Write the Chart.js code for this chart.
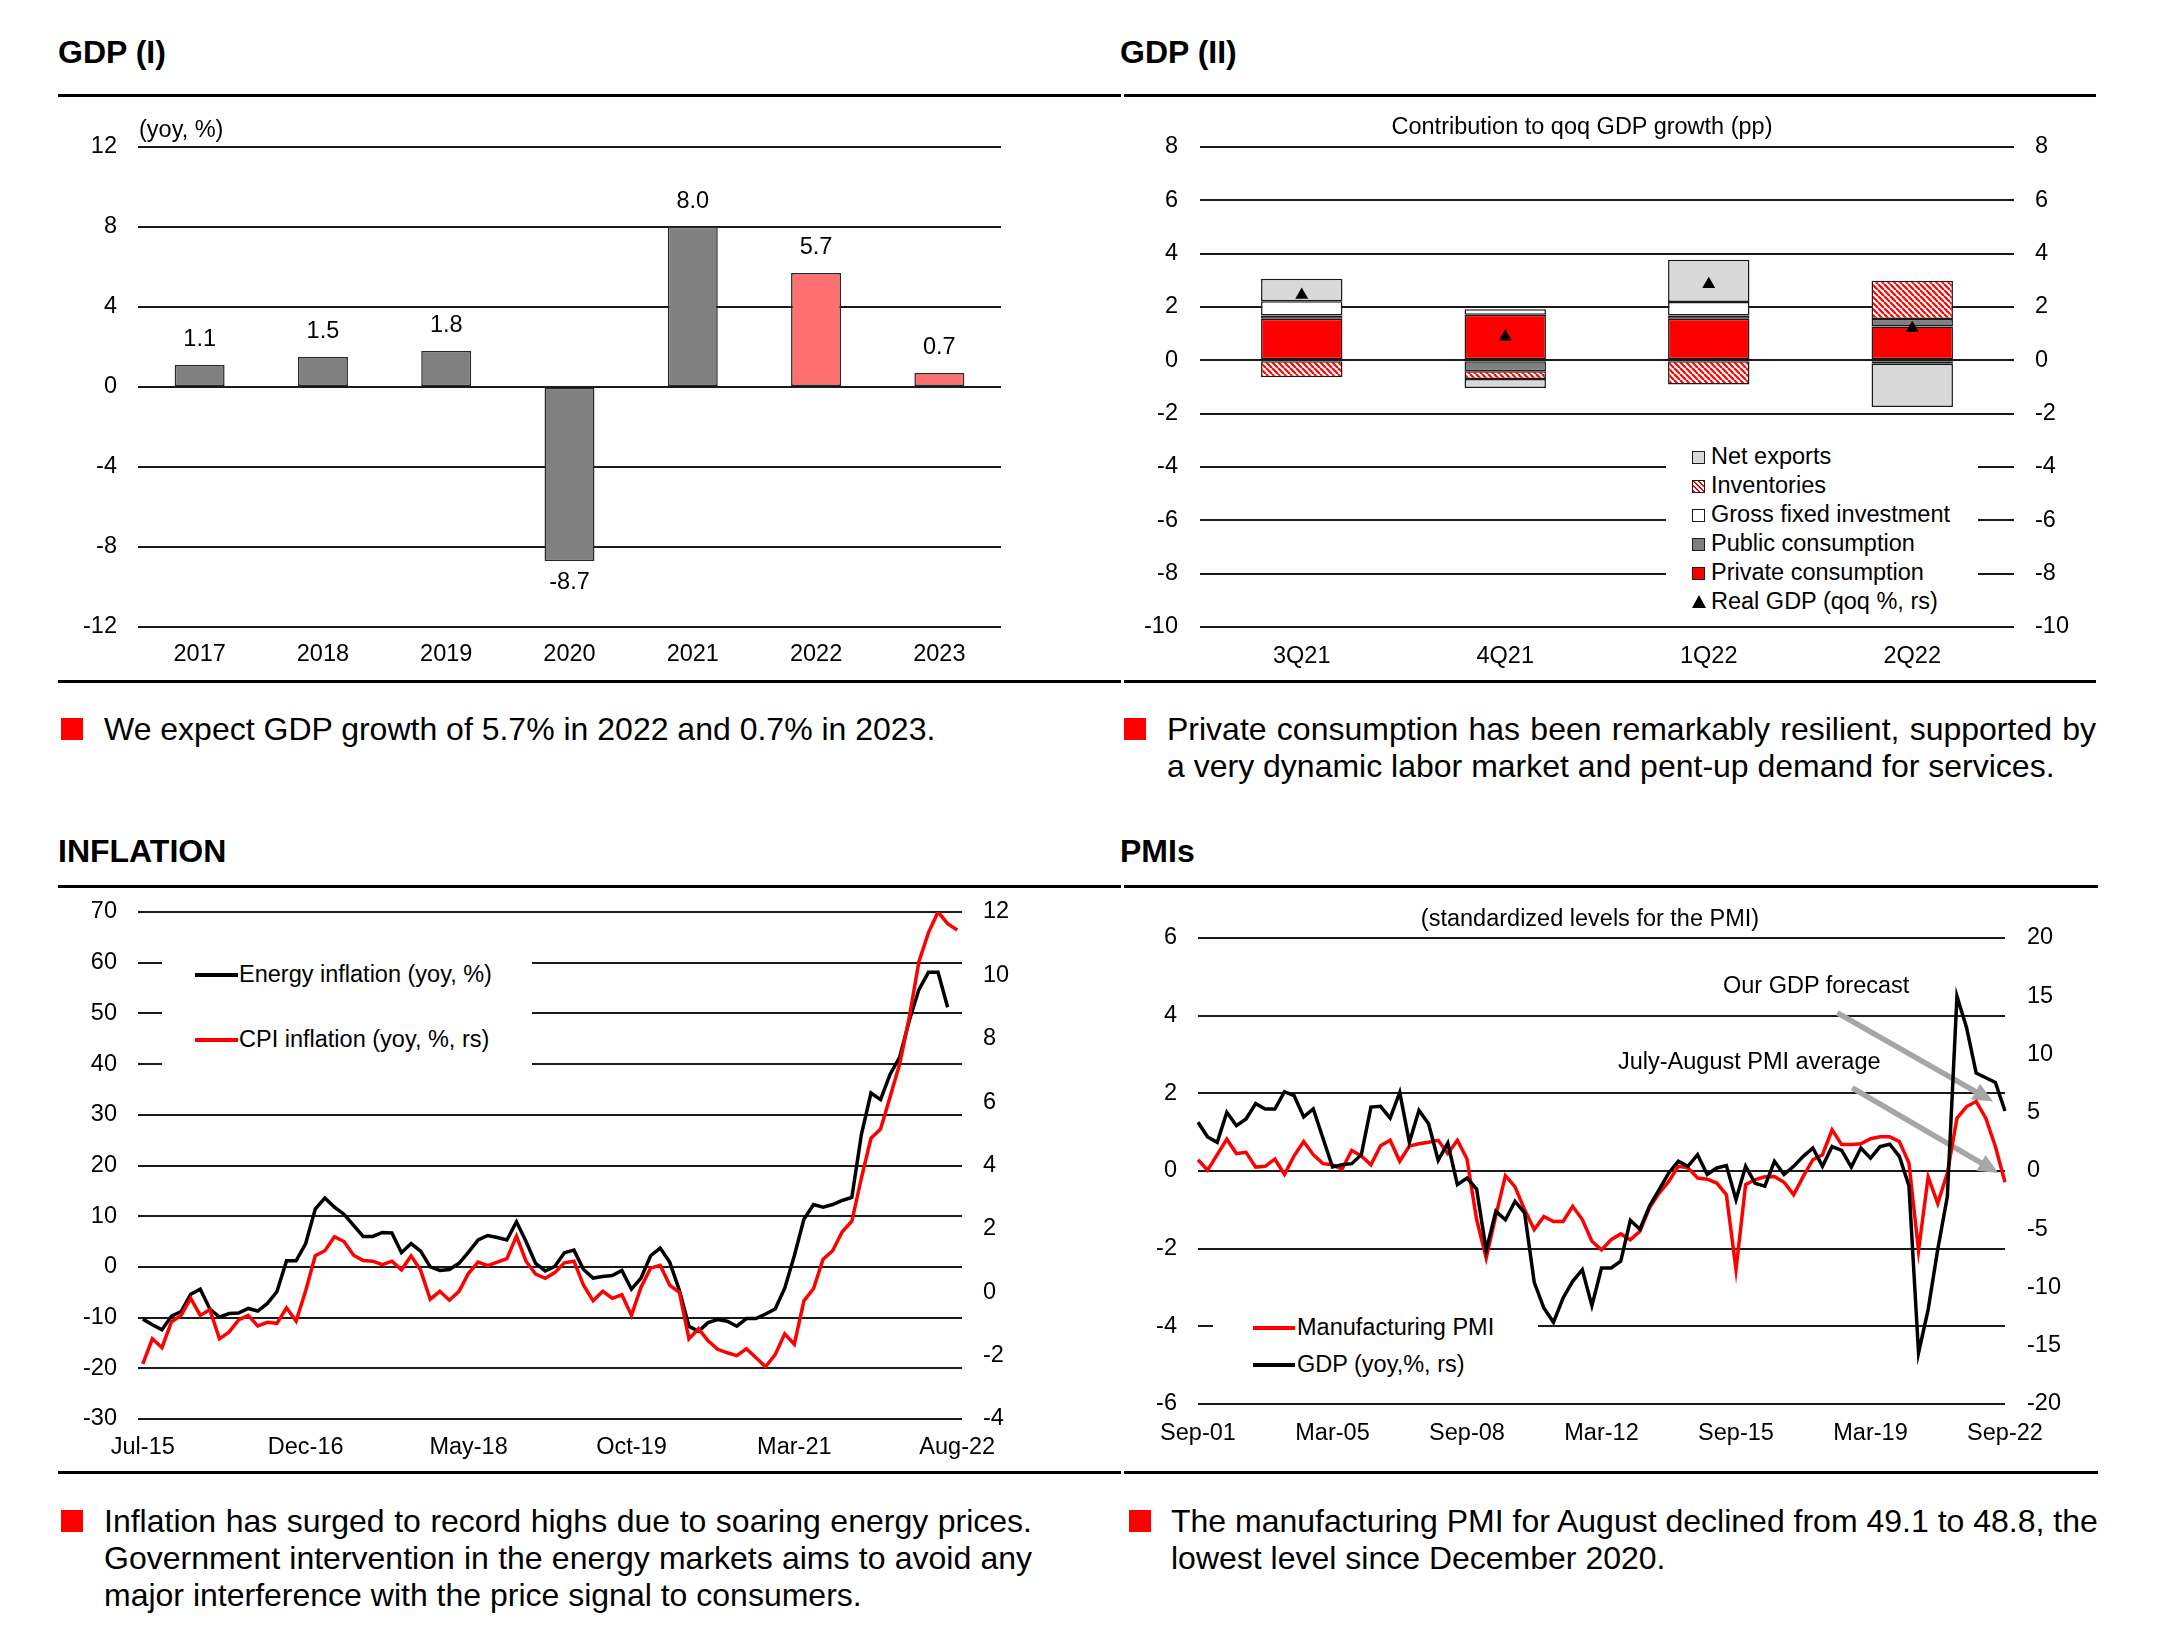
<!DOCTYPE html>
<html><head><meta charset="utf-8">
<script src="https://cdn.jsdelivr.net/npm/chart.js@4.4.1/dist/chart.umd.min.js"></script>
<style>
body{margin:0;background:#fff;}
#page{position:relative;width:2166px;height:1639px;overflow:hidden;font-family:'Liberation Sans',Arial,sans-serif;color:#000;background:#fff;}
.title{position:absolute;font-weight:bold;font-size:32px;line-height:32px;white-space:nowrap;}
.rule{position:absolute;height:3px;background:#000;}
.bullet{position:absolute;width:22px;height:22px;background:#ff0000;}
.btext{position:absolute;font-size:32px;line-height:37px;white-space:nowrap;}
.jl{display:inline-block;text-align:justify;text-align-last:justify;white-space:normal;}
.lbl{position:absolute;font-size:23.5px;line-height:23.5px;white-space:nowrap;}
canvas{position:absolute;}
.legend{position:absolute;background:#fff;}
.lrow{position:absolute;font-size:23.5px;line-height:23.5px;white-space:nowrap;}
</style></head>
<body><div id="page">
<div class="title" style="left:58px;top:36px;">GDP (I)</div>
<div class="title" style="left:1120px;top:36px;">GDP (II)</div>
<div class="rule" style="left:58px;top:94px;width:1063px;"></div>
<div class="rule" style="left:1124px;top:94px;width:972px;"></div>
<div class="rule" style="left:58px;top:680px;width:1063px;"></div>
<div class="rule" style="left:1124px;top:680px;width:972px;"></div>

<div class="bullet" style="left:61px;top:718px;"></div>
<div class="btext" style="left:104px;top:711px;">We expect GDP growth of 5.7% in 2022 and 0.7% in 2023.</div>
<div class="bullet" style="left:1124px;top:718px;"></div>
<div class="btext" style="left:1167px;top:711px;"><span class="jl" style="width:929px;">Private consumption has been remarkably resilient, supported by</span><br>a very dynamic labor market and pent-up demand for services.</div>

<div class="title" style="left:58px;top:835px;">INFLATION</div>
<div class="title" style="left:1120px;top:835px;">PMIs</div>
<div class="rule" style="left:58px;top:885px;width:1063px;"></div>
<div class="rule" style="left:1124px;top:885px;width:974px;"></div>
<div class="rule" style="left:58px;top:1471px;width:1063px;"></div>
<div class="rule" style="left:1124px;top:1471px;width:974px;"></div>

<div class="bullet" style="left:61px;top:1510px;"></div>
<div class="btext" style="left:104px;top:1503px;"><span class="jl" style="width:928px;">Inflation has surged to record highs due to soaring energy prices.</span><br><span class="jl" style="width:928px;">Government intervention in the energy markets aims to avoid any</span><br>major interference with the price signal to consumers.</div>
<div class="bullet" style="left:1129px;top:1510px;"></div>
<div class="btext" style="left:1171px;top:1503px;">The manufacturing PMI for August declined from 49.1 to 48.8, the<br>lowest level since December 2020.</div>

<canvas id="c1" width="980" height="560" style="left:40px;top:110px;"></canvas>
<canvas id="c2" width="970" height="560" style="left:1110px;top:110px;"></canvas>
<canvas id="c3" width="980" height="600" style="left:40px;top:860px;"></canvas>
<canvas id="c4" width="980" height="570" style="left:1110px;top:890px;"></canvas>

<div class="lbl" style="left:139px;top:118px;">(yoy, %)</div>
<div class="lbl" style="left:1582px;top:115px;transform:translateX(-50%);">Contribution to qoq GDP growth (pp)</div>
<div class="lbl" style="left:1590px;top:907px;transform:translateX(-50%);">(standardized levels for the PMI)</div>
<div class="lbl" style="left:1723px;top:974px;">Our GDP forecast</div>
<div class="lbl" style="left:1618px;top:1050px;">July-August PMI average</div>
<div id="legends"></div>
</div>
<script>
// ================= DATA =================
const gdpYears = ['2017','2018','2019','2020','2021','2022','2023'];
const gdpAnnual = [1.1, 1.5, 1.8, -8.7, 8.0, 5.7, 0.7];
const gdpForecastYears = ['2022','2023'];

const contribQuarters = ['3Q21','4Q21','1Q22','2Q22'];
const contribSeriesNames = ['Private consumption','Public consumption','Gross fixed investment','Inventories','Net exports'];
const privateConsumption = [1.56, 1.71, 1.56, 1.27];
const publicConsumption = [0.12, -0.41, 0.12, 0.28];
const grossFixedInvestment = [0.54, 0.21, 0.51, -0.13];
const inventories = [-0.63, -0.29, -0.91, 1.43];
const netExports = [0.84, -0.34, 1.58, -1.62];
const realGdpName = 'Real GDP (qoq %, rs)';
const realGdpQoq = [2.45, 0.88, 2.85, 1.2];

const inflationSeriesNames = ['Energy inflation (yoy, %)', 'CPI inflation (yoy, %, rs)'];
const inflationTickLabels = ['Jul-15','Dec-16','May-18','Oct-19','Mar-21','Aug-22'];
const energyInflation = [
 -10.3,-11.4,-12.4,-9.7,-8.8,-5.4,-4.4,-8.3,-9.9,-9.2,
 -9.1,-8.2,-8.7,-7.2,-4.9,1.2,1.2,4.6,11.4,13.6,
 11.8,10.4,8.2,6.0,6.0,6.8,6.7,2.8,4.6,3.1,
 0.0,-0.7,-0.5,0.7,2.9,5.3,6.2,5.8,5.3,8.9,
 5.0,0.7,-0.8,0.1,2.8,3.3,-0.5,-2.2,-1.9,-1.7,
 -0.7,-4.4,-2.2,2.2,3.7,0.9,-4.6,-11.7,-12.7,-11.0,
 -10.4,-10.7,-11.7,-10.2,-10.2,-9.3,-8.3,-4.2,2.2,9.4,
 12.3,11.8,12.3,13.1,13.7,26.1,34.3,33.0,38.0,41.4,
 48.6,54.7,58.1,58.1,51.2,null];
const cpiInflation = [
 -2.26,-1.47,-1.75,-0.93,-0.73,-0.19,-0.73,-0.55,-1.47,-1.26,
 -0.87,-0.73,-1.06,-0.95,-0.98,-0.49,-0.91,0.05,1.15,1.31,
 1.75,1.6,1.17,1.0,0.98,0.87,0.98,0.71,1.15,0.69,
 -0.22,0.03,-0.25,0.03,0.6,0.95,0.84,0.95,1.06,1.77,
 0.98,0.57,0.44,0.62,0.93,0.98,0.22,-0.27,0.03,-0.19,
 -0.08,-0.73,0.16,0.76,0.85,0.22,0.0,-1.47,-1.15,-1.53,
 -1.8,-1.91,-2.0,-1.78,-2.07,-2.35,-1.97,-1.31,-1.64,-0.27,
 0.11,1.04,1.31,1.91,2.24,3.6,4.86,5.15,6.17,7.21,
 8.68,10.43,11.35,12.0,11.63,11.43];

const pmiSeriesNames = ['Manufacturing PMI', 'GDP (yoy,%, rs)'];
const pmiTickLabels = ['Sep-01','Mar-05','Sep-08','Mar-12','Sep-15','Mar-19','Sep-22'];
const manufacturingPmi = [
 0.29,0.02,0.42,0.82,0.45,0.48,0.10,0.12,0.31,-0.09,
 0.39,0.76,0.42,0.19,0.16,0.05,0.53,0.39,0.16,0.65,
 0.79,0.25,0.64,0.70,0.74,0.79,0.45,0.79,0.31,-1.25,
 -2.24,-1.15,-0.12,-0.41,-1.0,-1.51,-1.17,-1.30,-1.30,-0.91,
 -1.25,-1.81,-2.03,-1.77,-1.62,-1.77,-1.55,-0.95,-0.57,-0.27,
 0.12,0.08,-0.18,-0.21,-0.31,-0.61,-2.54,-0.35,-0.22,-0.15,
 -0.14,-0.29,-0.61,-0.14,0.29,0.42,1.06,0.68,0.68,0.7,
 0.83,0.88,0.88,0.76,0.21,-2.05,-0.15,-0.84,-0.05,1.36,
 1.66,1.79,1.36,0.63,-0.29];
const gdpYoy = [
 4.18,2.92,2.46,5.04,3.89,4.46,5.78,5.32,5.32,6.81,
 6.47,4.64,5.32,2.83,0.34,0.54,0.63,1.4,5.49,5.55,
 4.55,6.75,2.46,5.21,4.06,0.92,2.4,-1.17,-0.6,-1.55,
 -6.81,-3.46,-4.18,-2.6,-3.6,-9.56,-11.76,-12.99,-10.9,-9.47,
 -8.47,-11.56,-8.33,-8.33,-7.75,-4.23,-5.0,-3.0,-1.6,-0.17,
 0.83,0.4,1.4,-0.3,0.26,0.46,-2.46,0.4,-1.06,-1.3,
 0.83,-0.3,0.4,1.26,1.97,0.4,2.1,1.77,0.34,1.97,
 1.1,2.1,2.3,1.26,-1.26,-15.6,-11.9,-6.72,-2.2,15.0,
 12.3,8.4,8.0,7.6,5.15];
// annotation arrows on the PMI chart, in (quarter index, left-axis value)
const pmiArrows = [ {from:[66.55, 4.07], to:[82.75, 1.79]}, {from:[68.1, 2.14], to:[83.3, -0.05]} ];

// ================= HELPERS =================
const MONTHS = ['Jan','Feb','Mar','Apr','May','Jun','Jul','Aug','Sep','Oct','Nov','Dec'];
function periodLabels(year, monthIdx, count, step){
  const out=[]; for(let i=0;i<count;i++){ const t=year*12+monthIdx+i*step; out.push(MONTHS[t%12]+'-'+String(Math.floor(t/12)%100).padStart(2,'0')); } return out;
}
const inflationMonths = periodLabels(2015, 6, cpiInflation.length, 1);
const pmiQuarters = periodLabels(2001, 8, gdpYoy.length, 3);

Chart.defaults.font.family = "'Liberation Sans', Arial, sans-serif";
Chart.defaults.font.size = 23.5;
Chart.defaults.color = '#000';
Chart.defaults.animation = false;
Chart.defaults.responsive = false;
Chart.defaults.devicePixelRatio = 1;
Chart.defaults.plugins.legend.display = false;
Chart.defaults.plugins.tooltip.enabled = false;

const GRID = {color:'#1a1a1a', lineWidth:2, drawTicks:false};
const NOGRID = {display:false, drawTicks:false};
const fixW = w => s => { s.width = w; };
const fixH = h => s => { s.height = h; };
const tickFilter = list => function(value){ const l = this.getLabelForValue(value); return list.includes(l) ? l : ''; };

const RED = '#ff0000', BLACK = '#000000';

// ================= GDP (I) =================
const barLabelPlugin = {
  id:'barLabels',
  afterDatasetsDraw(chart){
    const ctx = chart.ctx, meta = chart.getDatasetMeta(0);
    ctx.save(); ctx.font = "23.5px 'Liberation Sans', Arial, sans-serif"; ctx.fillStyle='#000';
    ctx.textAlign='center'; ctx.textBaseline='middle';
    meta.data.forEach((bar,i)=>{ const v = chart.data.datasets[0].data[i];
      ctx.fillText(v.toFixed(1), bar.x, v>=0 ? bar.y-25 : bar.y+22); });
    ctx.restore();
  }
};
new Chart(document.getElementById('c1'), {
  type:'bar',
  data:{ labels:gdpYears, datasets:[{ data:gdpAnnual,
    backgroundColor: gdpYears.map(y => gdpForecastYears.includes(y) ? '#ff7070' : '#808080'),
    borderColor:'#262626', borderWidth:1.5, borderSkipped:false, barPercentage:0.405, categoryPercentage:1 }]},
  options:{
    layout:{padding:{top:37,right:19,left:0,bottom:0}},
    scales:{
      x:{offset:true, grid:NOGRID, border:{display:false}, ticks:{padding:13, autoSkip:false, maxRotation:0, minRotation:0}, afterFit:fixH(43)},
      y:{min:-12, max:12, ticks:{stepSize:4, padding:21}, grid:GRID, border:{display:false}, afterFit:fixW(98)}
    }
  },
  plugins:[barLabelPlugin]
});

// ================= GDP (II) =================
const c2 = document.getElementById('c2');
function hatchPattern(ctx){
  const s=6, c=document.createElement('canvas'); c.width=s; c.height=s;
  const g=c.getContext('2d'); g.fillStyle='#fff'; g.fillRect(0,0,s,s);
  g.strokeStyle=RED; g.lineWidth=2.2; g.beginPath();
  for(const o of [-s,0,s]){ g.moveTo(o,0); g.lineTo(o+s,s); } g.stroke();
  return ctx.createPattern(c,'repeat');
}
const hatch = hatchPattern(c2.getContext('2d'));
const contribFills = ['#ff0000','#7f7f7f','#ffffff', hatch, '#d9d9d9'];
const contribData = [privateConsumption, publicConsumption, grossFixedInvestment, inventories, netExports];
new Chart(c2, {
  type:'bar',
  data:{ labels:contribQuarters, datasets:[
    { type:'line', label:realGdpName, data:realGdpQoq, yAxisID:'y2', showLine:false, pointStyle:'triangle',
      pointRadius:7.5, pointBackgroundColor:BLACK, pointBorderColor:BLACK, pointBorderWidth:0, order:0 },
    ...contribData.map((d,i)=>({ label:contribSeriesNames[i], data:d, backgroundColor:contribFills[i], borderColor:'#1a1a1a',
      borderWidth:1.5, borderSkipped:false, barPercentage:0.4, categoryPercentage:1, stack:'c', yAxisID:'y', order:1 }))
  ]},
  options:{
    layout:{padding:{top:37,right:0,left:0,bottom:0}},
    scales:{
      x:{stacked:true, offset:true, grid:NOGRID, border:{display:false}, ticks:{padding:15, autoSkip:false, maxRotation:0, minRotation:0}, afterFit:fixH(43)},
      y:{stacked:true, min:-10, max:8, ticks:{stepSize:2, padding:22}, grid:GRID, border:{display:false}, afterFit:fixW(90)},
      y2:{position:'right', min:-10, max:8, ticks:{stepSize:2, padding:21}, grid:{drawOnChartArea:false, drawTicks:false}, border:{display:false}, afterFit:fixW(66)}
    }
  }
});

// ================= INFLATION =================
new Chart(document.getElementById('c3'), {
  type:'line',
  data:{ labels:inflationMonths, datasets:[
    { label:inflationSeriesNames[0], data:energyInflation, borderColor:BLACK, borderWidth:3.5, pointRadius:0, tension:0, yAxisID:'y', order:2 },
    { label:inflationSeriesNames[1], data:cpiInflation, borderColor:RED, borderWidth:3.5, pointRadius:0, tension:0, yAxisID:'y2', order:1 }
  ]},
  options:{
    layout:{padding:{top:52,right:0,left:0,bottom:0}},
    scales:{
      x:{offset:true, grid:NOGRID, border:{display:false}, ticks:{padding:14, autoSkip:false, maxRotation:0, minRotation:0, callback:tickFilter(inflationTickLabels)}, afterFit:fixH(41)},
      y:{min:-30, max:70, ticks:{stepSize:10, padding:21}, grid:GRID, border:{display:false}, afterFit:fixW(98)},
      y2:{position:'right', min:-4, max:12, ticks:{stepSize:2, padding:21}, grid:{drawOnChartArea:false, drawTicks:false}, border:{display:false}, afterFit:fixW(58)}
    }
  }
});

// ================= PMIs =================
const arrowPlugin = {
  id:'arrows',
  beforeDatasetsDraw(chart){
    const ctx=chart.ctx, xs=chart.scales.x, ys=chart.scales.y;
    ctx.save(); ctx.fillStyle='#a6a6a6'; ctx.strokeStyle='#a6a6a6'; ctx.lineWidth=5.5; ctx.lineCap='butt';
    pmiArrows.forEach(a=>{
      const x0=xs.getPixelForValue(a.from[0]), y0=ys.getPixelForValue(a.from[1]);
      const x1=xs.getPixelForValue(a.to[0]), y1=ys.getPixelForValue(a.to[1]);
      const dx=x1-x0, dy=y1-y0, L=Math.hypot(dx,dy), ux=dx/L, uy=dy/L, hl=20, hw=9;
      const bx=x1-ux*hl, by=y1-uy*hl;
      ctx.beginPath(); ctx.moveTo(x0,y0); ctx.lineTo(bx+ux,by+uy); ctx.stroke();
      ctx.beginPath(); ctx.moveTo(x1,y1); ctx.lineTo(bx-uy*hw, by+ux*hw); ctx.lineTo(bx+uy*hw, by-ux*hw); ctx.closePath(); ctx.fill();
    });
    ctx.restore();
  }
};
new Chart(document.getElementById('c4'), {
  type:'line',
  data:{ labels:pmiQuarters, datasets:[
    { label:pmiSeriesNames[0], data:manufacturingPmi, borderColor:RED, borderWidth:3.5, pointRadius:0, tension:0, yAxisID:'y', order:2 },
    { label:pmiSeriesNames[1], data:gdpYoy, borderColor:BLACK, borderWidth:3.5, pointRadius:0, tension:0, yAxisID:'y2', order:1 }
  ]},
  options:{
    layout:{padding:{top:48,right:0,left:0,bottom:0}},
    scales:{
      x:{offset:false, grid:NOGRID, border:{display:false}, ticks:{padding:15, autoSkip:false, maxRotation:0, minRotation:0, callback:tickFilter(pmiTickLabels)}, afterFit:fixH(56)},
      y:{min:-6, max:6, ticks:{stepSize:2, padding:21}, grid:GRID, border:{display:false}, afterFit:fixW(88)},
      y2:{position:'right', min:-20, max:20, ticks:{stepSize:5, padding:22}, grid:{drawOnChartArea:false, drawTicks:false}, border:{display:false}, afterFit:fixW(85)}
    }
  },
  plugins:[arrowPlugin]
});

// ================= HTML LEGENDS =================
const page = document.getElementById('legends');
function legend(box, rows){
  const d=document.createElement('div'); d.className='legend';
  Object.assign(d.style,{left:box.x+'px',top:box.y+'px',width:box.w+'px',height:box.h+'px'});
  page.appendChild(d);
  rows.forEach(r=>{
    const icon=document.createElement('div'); icon.style.position='absolute';
    if(r.kind==='line'){ Object.assign(icon.style,{left:r.ix+'px',top:(r.cy-1.75)+'px',width:r.iw+'px',height:'3.5px',background:r.color}); }
    else if(r.kind==='triangle'){ Object.assign(icon.style,{left:r.ix+'px',top:(r.cy-7)+'px',width:'0',height:'0',borderLeft:'7.5px solid transparent',borderRight:'7.5px solid transparent',borderBottom:'13px solid #000'}); }
    else { Object.assign(icon.style,{left:r.ix+'px',top:(r.cy-6.5)+'px',width:'13px',height:'13px',boxSizing:'border-box',border:'1.5px solid #1a1a1a',background:r.color}); }
    page.appendChild(icon);
    const t=document.createElement('div'); t.className='lrow'; t.textContent=r.label;
    Object.assign(t.style,{left:r.tx+'px',top:(r.cy-12)+'px'}); page.appendChild(t);
  });
}
const hatchCss='repeating-linear-gradient(45deg,#ff0000 0 1.6px,#ffffff 1.6px 3.6px)';
const gdp2Icons=['#ff0000','#7f7f7f','#ffffff',hatchCss,'#d9d9d9'];
const gdp2Rows=[];
for(let i=contribSeriesNames.length-1, k=0; i>=0; i--, k++){
  gdp2Rows.push({kind:'square', color:gdp2Icons[i], label:contribSeriesNames[i], ix:1692, tx:1711, cy:457+k*29});
}
gdp2Rows.push({kind:'triangle', label:realGdpName, ix:1692, tx:1711, cy:457+5*29});
legend({x:1666,y:436,w:312,h:182}, gdp2Rows);

legend({x:162,y:926,w:370,h:152}, [
  {kind:'line', color:BLACK, label:inflationSeriesNames[0], ix:195, iw:43, tx:239, cy:975},
  {kind:'line', color:RED, label:inflationSeriesNames[1], ix:195, iw:43, tx:239, cy:1040}
]);
legend({x:1213,y:1302,w:325,h:84}, [
  {kind:'line', color:RED, label:pmiSeriesNames[0], ix:1253, iw:42, tx:1297, cy:1328},
  {kind:'line', color:BLACK, label:pmiSeriesNames[1], ix:1253, iw:42, tx:1297, cy:1365}
]);
</script>
</body></html>
